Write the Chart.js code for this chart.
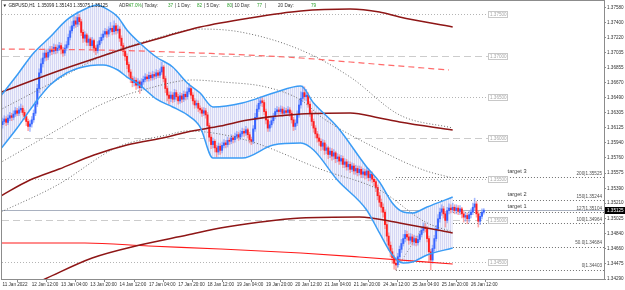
<!DOCTYPE html>
<html><head><meta charset="utf-8">
<script src="https://cdn.jsdelivr.net/npm/chart.js@4.4.1/dist/chart.umd.min.js"></script>
<style>html,body{margin:0;padding:0;background:#fff;overflow:hidden}canvas{display:block}</style>
</head><body><canvas id="c" width="625" height="290"></canvas>
<script>
// ---------- DATA (GBPUSD H1) ----------
const xLabels = ['11 Jan 2022','12 Jan 12:00','13 Jan 04:00','13 Jan 20:00','14 Jan 12:00','17 Jan 04:00','17 Jan 20:00','18 Jan 12:00','19 Jan 04:00','19 Jan 20:00','20 Jan 12:00','21 Jan 04:00','21 Jan 20:00','24 Jan 12:00','25 Jan 04:00','25 Jan 20:00','26 Jan 12:00'];
const yTicks = [1.37580,1.37400,1.37220,1.37035,1.36855,1.36670,1.36490,1.36305,1.36125,1.35940,1.35760,1.35575,1.35390,1.35210,1.35025,1.34840,1.34660,1.34475,1.34290];
const firstOpen = 1.3616;
const closes = [1.3620,1.3623,1.3619,1.3624,1.3627,1.3625,1.3629,1.3633,1.3630,1.3634,1.3636,
1.3631,1.3626,1.3620,1.3614,1.3617,1.3622,1.3630,1.3641,1.3660,1.3679,1.3690,1.3697,
1.3703,1.3698,1.3704,1.3707,1.3705,1.3710,1.3706,1.3709,1.3712,1.3707,1.3703,1.3709,1.3713,
1.3722,1.3730,1.3736,1.3742,1.3738,1.3746,1.3741,1.3728,1.3721,
1.3725,1.3716,1.3720,1.3712,1.3718,1.3709,1.3706,1.3713,1.3718,1.3722,1.3726,1.3729,1.3726,1.3731,
1.3733,1.3729,1.3736,1.3730,1.3732,1.3721,1.3712,1.3705,1.3699,1.3689,1.3680,1.3672,1.3667,
1.3670,1.3664,1.3668,1.3661,1.3668,1.3671,1.3674,1.3672,1.3676,1.3673,1.3677,1.3675,1.3679,1.3676,1.3680,1.3686,
1.3672,1.3660,1.3652,1.3648,1.3652,1.3647,1.3655,1.3650,1.3645,1.3651,1.3647,1.3653,1.3650,
1.3656,1.3660,1.3652,1.3645,1.3640,1.3642,1.3636,1.3634,1.3630,1.3633,1.3628,
1.3615,1.3601,1.3592,1.3596,1.3588,1.3583,1.3590,1.3585,1.3591,
1.3594,1.3592,1.3597,1.3596,1.3600,1.3598,1.3602,1.3604,1.3601,1.3605,1.3608,1.3606,1.3610,
1.3604,1.3598,1.3596,1.3611,1.3625,1.3635,1.3642,1.3645,1.3643,1.3632,1.3622,1.3612,1.3616,
1.3621,1.3626,1.3632,1.3634,1.3632,1.3635,1.3630,1.3633,1.3631,1.3634,1.3630,1.3622,1.3614,1.3618,
1.3628,1.3640,1.3648,1.3655,1.3650,1.3652,1.3641,1.3630,1.3620,1.3612,1.3605,1.3600,1.3596,
1.3590,1.3594,1.3585,1.3588,1.3580,1.3584,1.3578,1.3582,1.3575,
1.3577,1.3572,1.3575,1.3568,1.3571,1.3565,1.3568,1.3562,1.3566,1.3560,1.3563,1.3558,1.3562,1.3556,1.3559,
1.3555,1.3560,1.3552,1.3556,1.3550,1.3547,1.3540,1.3530,1.3522,1.3516,1.3510,
1.3495,1.3481,1.3470,1.3462,1.3455,1.3448,1.3446,1.3456,1.3465,1.3472,1.3478,1.3483,1.3480,
1.3476,1.3480,1.3474,1.3478,1.3473,1.3477,1.3483,1.3488,1.3492,1.3490,1.3478,1.3462,1.3452,
1.3466,1.3478,1.3490,1.3502,1.3510,1.3514,1.3508,1.3500,1.3512,1.3515,
1.3513,1.3516,1.3512,1.3515,1.3511,1.3514,1.3508,1.3504,1.3506,1.3502,1.3507,1.3510,
1.3516,1.3520,1.3508,1.3499,1.3505,1.3510,1.35125];
const highs = [1.3624,1.3627,1.3626,1.3628,1.3631,1.3630,1.3633,1.3637,1.3636,1.3638,1.3641,
1.3639,1.3634,1.3628,1.3623,1.3621,1.3626,1.3634,1.3645,1.3665,1.3684,1.3696,1.3703,
1.3708,1.3707,1.3708,1.3711,1.3711,1.3714,1.3713,1.3713,1.3716,1.3715,1.3710,1.3713,1.3717,
1.3726,1.3735,1.3741,1.3748,1.3747,1.3753,1.3750,1.3744,1.3731,
1.3729,1.3727,1.3724,1.3722,1.3722,1.3720,1.3712,1.3717,1.3722,1.3726,1.3730,1.3733,1.3732,1.3735,
1.3740,1.3736,1.3742,1.3739,1.3737,1.3735,1.3724,1.3715,1.3708,1.3702,1.3692,1.3683,1.3675,
1.3674,1.3673,1.3672,1.3670,1.3672,1.3675,1.3678,1.3677,1.3680,1.3679,1.3681,1.3680,1.3683,1.3682,1.3684,1.3692,
1.3688,1.3675,1.3663,1.3656,1.3656,1.3655,1.3659,1.3658,1.3653,1.3655,1.3654,1.3657,1.3656,
1.3661,1.3666,1.3663,1.3655,1.3648,1.3646,1.3645,1.3639,1.3637,1.3637,1.3636,
1.3631,1.3618,1.3604,1.3600,1.3598,1.3591,1.3594,1.3593,1.3595,
1.3598,1.3597,1.3601,1.3600,1.3604,1.3603,1.3606,1.3608,1.3607,1.3609,1.3612,1.3611,1.3614,
1.3612,1.3607,1.3601,1.3615,1.3630,1.3640,1.3647,1.3650,1.3649,1.3646,1.3635,1.3625,1.3620,
1.3625,1.3630,1.3636,1.3638,1.3637,1.3639,1.3638,1.3637,1.3636,1.3638,1.3637,1.3633,1.3625,1.3622,
1.3633,1.3646,1.3656,1.3663,1.3662,1.3659,1.3655,1.3644,1.3633,1.3623,1.3615,1.3608,1.3604,
1.3599,1.3598,1.3597,1.3592,1.3590,1.3588,1.3587,1.3586,1.3584,
1.3581,1.3580,1.3579,1.3578,1.3575,1.3574,1.3572,1.3571,1.3570,1.3569,1.3567,1.3566,1.3566,1.3565,1.3563,
1.3562,1.3564,1.3563,1.3560,1.3559,1.3553,1.3550,1.3543,1.3534,1.3526,1.3520,
1.3513,1.3498,1.3485,1.3474,1.3466,1.3458,1.3452,1.3460,1.3469,1.3477,1.3483,1.3488,1.3487,
1.3484,1.3484,1.3483,1.3482,1.3481,1.3481,1.3487,1.3492,1.3497,1.3496,1.3493,1.3481,1.3465,
1.3470,1.3482,1.3494,1.3507,1.3515,1.3519,1.3517,1.3511,1.3516,1.3520,
1.3519,1.3521,1.3519,1.3519,1.3518,1.3518,1.3516,1.3511,1.3510,1.3509,1.3511,1.3514,
1.3521,1.3527,1.3523,1.3511,1.3509,1.3514,1.35143];
const lows = [1.3612,1.3617,1.3615,1.3616,1.3621,1.3621,1.3622,1.3626,1.3627,1.3627,1.3631,
1.3628,1.3622,1.3615,1.3609,1.3608,1.3613,1.3619,1.3627,1.3638,1.3655,1.3675,1.3686,
1.3693,1.3694,1.3695,1.3700,1.3701,1.3702,1.3702,1.3703,1.3706,1.3702,1.3699,1.3700,1.3706,
1.3710,1.3719,1.3727,1.3733,1.3734,1.3735,1.3737,1.3724,1.3716,
1.3717,1.3712,1.3712,1.3707,1.3709,1.3704,1.3701,1.3703,1.3710,1.3715,1.3719,1.3723,1.3722,1.3723,
1.3728,1.3725,1.3726,1.3726,1.3727,1.3717,1.3708,1.3700,1.3694,1.3684,1.3675,1.3667,1.3662,
1.3663,1.3659,1.3660,1.3654,1.3658,1.3665,1.3668,1.3669,1.3669,1.3670,1.3670,1.3671,1.3672,1.3673,1.3673,1.3677,
1.3668,1.3655,1.3645,1.3641,1.3644,1.3643,1.3644,1.3646,1.3641,1.3642,1.3643,1.3644,1.3646,
1.3647,1.3653,1.3648,1.3641,1.3636,1.3637,1.3632,1.3630,1.3626,1.3627,1.3624,
1.3611,1.3596,1.3587,1.3588,1.3583,1.3577,1.3580,1.3580,1.3582,
1.3588,1.3588,1.3589,1.3592,1.3593,1.3594,1.3595,1.3599,1.3597,1.3598,1.3602,1.3602,1.3603,
1.3600,1.3594,1.3592,1.3593,1.3608,1.3622,1.3632,1.3639,1.3638,1.3628,1.3617,1.3608,1.3608,
1.3613,1.3618,1.3623,1.3629,1.3628,1.3629,1.3626,1.3627,1.3627,1.3628,1.3626,1.3618,1.3609,1.3610,
1.3615,1.3625,1.3636,1.3644,1.3646,1.3645,1.3637,1.3626,1.3615,1.3607,1.3600,1.3595,1.3591,
1.3585,1.3586,1.3580,1.3581,1.3575,1.3576,1.3573,1.3574,1.3570,
1.3571,1.3568,1.3568,1.3564,1.3564,1.3561,1.3561,1.3558,1.3559,1.3556,1.3556,1.3554,1.3555,1.3552,1.3552,
1.3550,1.3551,1.3548,1.3548,1.3546,1.3542,1.3535,1.3525,1.3517,1.3510,1.3504,
1.3490,1.3475,1.3464,1.3456,1.3448,1.3441,1.3440,1.3443,1.3452,1.3461,1.3469,1.3474,1.3476,
1.3471,1.3472,1.3470,1.3470,1.3469,1.3470,1.3474,1.3480,1.3485,1.3486,1.3474,1.3450,1.3440,
1.3448,1.3463,1.3475,1.3487,1.3498,1.3506,1.3503,1.3492,1.3497,1.3508,
1.3509,1.3510,1.3508,1.3508,1.3507,1.3507,1.3503,1.3498,1.3499,1.3496,1.3498,1.3503,
1.3507,1.3512,1.3504,1.3492,1.3495,1.3502,1.35075];

// Bollinger band H1 (read at these bar positions)
const bandIdx   = [-1.4,8,17,26,35,44,52,55,63,68,75,84,93,101,108,115,131,148,163,170,183,199,206,213,219,224,232,246];
const bandUpper = [1.36497,1.36764,1.37030,1.37224,1.37430,1.37552,1.37612,1.37588,1.37467,1.37309,1.37152,1.36982,1.36861,1.36667,1.36545,1.36376,1.36424,1.36545,1.36630,1.36424,1.36133,1.35648,1.35466,1.35212,1.35102,1.35090,1.35163,1.35284];
const bandLower = [1.35854,1.36121,1.36400,1.36642,1.36788,1.36861,1.36885,1.36885,1.36824,1.36739,1.36642,1.36473,1.36376,1.36279,1.36133,1.35757,1.35757,1.35915,1.35939,1.35854,1.35490,1.35127,1.34848,1.34581,1.34484,1.34496,1.34581,1.34666];

// dark-red envelope (upper / middle / lower)
const envUpIdx = [-2,17,35,53,71,90,108,135,163,190,206,217,246];
const envUp    = [1.36545,1.36703,1.36848,1.36982,1.37115,1.37236,1.37346,1.37455,1.37540,1.37564,1.37527,1.37467,1.37346];
const envMidIdx = [-2,15,31,50,68,90,101,119,134,163,190,206,217,246];
const envMid    = [1.35284,1.35490,1.35624,1.35793,1.35915,1.36012,1.36073,1.36145,1.36218,1.36291,1.36303,1.36242,1.36194,1.36097];
const envLowIdx = [-2,22,49,75,101,119,141,163,195,217,246];
const envLow    = [1.34047,1.34278,1.34545,1.34702,1.34823,1.34908,1.34981,1.35030,1.35042,1.34969,1.34848];
// red MA and dashed red MA
const redIdx = [-2,45,80,119,163,195,246];
const redMA  = [1.34726,1.34726,1.34690,1.34654,1.34605,1.34557,1.34472];
const redDashIdx = [-2,53,108,163,190,244];
const redDash    = [1.37079,1.37067,1.37030,1.36970,1.36921,1.36824];
// dotted band (upper / middle / lower)
const dotUpIdx = [-1.4,29.8,53.3,80.6,108,130,163,190,217,246];
const dotUp    = [1.36339,1.36703,1.36982,1.37188,1.37321,1.37285,1.37067,1.36739,1.36279,1.36121];
const dotMidIdx = [-1.4,29.8,53.3,80.6,104,120,144,163,175,206,230,246];
const dotMid    = [1.35697,1.36097,1.36400,1.36606,1.36703,1.36679,1.36618,1.36460,1.36242,1.35854,1.35612,1.35515];
const dotLowIdx = [-2,30,63,90,101,133,175,206,231,246];
const dotLow    = [1.35090,1.35430,1.35891,1.36036,1.36085,1.35975,1.35612,1.35369,1.34981,1.34860];

// levels, fibonacci targets, info
const levelsDashed = [1.370,1.360,1.350];
const levelsDotted = [1.375,1.365,1.355,1.345];
const fibNames  = ['200','150','127','100','50.0','0'];
const fibPrices = [1.35525,1.35244,1.35104,1.34964,1.34684,1.34403];
const targetNames  = ['target 3','target 2','target 1'];
const targetPrices = [1.35525,1.35244,1.35104];
const fibLineIdx = [215,231];
const fibLinePrice = [1.34403,1.34964];
const currentPrice = 1.35125;
const symbolInfo = 'GBPUSD,H1  1.35099 1.35143 1.35075 1.35125';
const adrNames  = ['ADR:','| Today:','| 1 Day:','| 5 Day:','| 10 Day:','20 Day:'];
const adrValues = ['47.0%','37','82','80','77','79'];

// ---------- CHART ----------
const FONT = "'Liberation Sans', Arial, sans-serif";
const opens = closes.map((c,i)=> i===0 ? firstOpen : closes[i-1]);
const isUp = closes.map((c,i)=> c >= opens[i]);
const pts = (idx, vals) => idx.map((x,k)=>({x:x, y:vals[k]}));
const canvas = document.getElementById('c');
const ctx = canvas.getContext('2d');
const pc = document.createElement('canvas'); pc.width = 2; pc.height = 1;
const pcx = pc.getContext('2d');
pcx.fillStyle = '#f1f2fc'; pcx.fillRect(0,0,2,1);
pcx.fillStyle = '#d6d8f4'; pcx.fillRect(0,0,1,1);
const hatch = ctx.createPattern(pc,'repeat');

const BAR_PX = 1.83;
const xMin = -0.5/BAR_PX, xMax = xMin + 602/BAR_PX;
const levelEnd = 265.3;
const lineDs = (idx, vals, color, width, dash, order) => ({
  type:'line', data: pts(idx, vals), borderColor: color, borderWidth: width,
  borderDash: dash || [], pointRadius: 0, fill: false, cubicInterpolationMode:'monotone', order: order
});

const overlay = {
  id:'overlay',
  beforeDatasetsDraw(chart){
    const c = chart.ctx, xs = chart.scales.x, ys = chart.scales.y, a = chart.chartArea;
    c.save();
    c.beginPath(); c.rect(a.left, a.top, a.right-a.left, a.bottom-a.top); c.clip();
    const xe = xs.getPixelForValue(levelEnd);
    c.lineWidth = 1;
    levelsDashed.forEach(v=>{ const y = Math.round(ys.getPixelForValue(v))+0.5;
      c.strokeStyle='#cccccc'; c.setLineDash([7,4]); c.beginPath(); c.moveTo(a.left,y); c.lineTo(xe,y); c.stroke(); });
    levelsDotted.forEach(v=>{ const y = Math.round(ys.getPixelForValue(v))+0.5;
      c.strokeStyle='#b4b4b4'; c.setLineDash([1,2]); c.beginPath(); c.moveTo(a.left,y); c.lineTo(xe,y); c.stroke(); });
    const xf = xs.getPixelForValue(fibLineIdx[0]);
    fibPrices.forEach(v=>{ const y = Math.round(ys.getPixelForValue(v))+0.5;
      c.strokeStyle='#707070'; c.setLineDash([1,2]); c.beginPath(); c.moveTo(xf,y); c.lineTo(a.right,y); c.stroke(); });
    c.setLineDash([]);
    const yc = Math.round(ys.getPixelForValue(currentPrice))+0.5;
    c.strokeStyle='#a9b1c0'; c.beginPath(); c.moveTo(a.left,yc); c.lineTo(a.right,yc); c.stroke();
    c.restore();
  },
  afterDraw(chart){
    const c = chart.ctx, xs = chart.scales.x, ys = chart.scales.y, a = chart.chartArea;
    c.save();
    c.strokeStyle='#8c8c8c'; c.lineWidth=1;
    c.strokeRect(a.left-0.5, a.top-0.5, a.right-a.left+1, a.bottom-a.top+1);
    const xe = xs.getPixelForValue(levelEnd);
    c.font = '4.6px '+FONT; c.textBaseline='middle'; c.textAlign='left';
    levelsDashed.concat(levelsDotted).forEach(v=>{
      const y = Math.round(ys.getPixelForValue(v));
      c.fillStyle='#ffffff'; c.fillRect(xe, y-3, 19, 6);
      c.strokeStyle='#c8c8c8'; c.strokeRect(xe+0.5, y-2.5, 19, 6);
      c.fillStyle='#a8a8a8'; c.fillText(v.toFixed(5), xe+2, y+0.5);
    });
    c.textAlign='right'; c.fillStyle='#505050';
    fibPrices.forEach((v,k)=>{ const y = ys.getPixelForValue(v);
      c.fillText(fibNames[k]+'|'+v.toFixed(5), a.right-2, y-3.5); });
    c.textAlign='left'; c.font='5.6px '+FONT; c.fillStyle='#404040';
    targetPrices.forEach((v,k)=>{ const y = ys.getPixelForValue(v);
      c.fillText(targetNames[k], xs.getPixelForValue(276), y-5.5); });
    const yc = Math.round(ys.getPixelForValue(currentPrice));
    c.fillStyle='#000'; c.fillRect(a.right+1, yc-3, 20, 7);
    c.fillStyle='#fff'; c.font='4.6px '+FONT; c.fillText(currentPrice.toFixed(5), a.right+3, yc+0.5);
    c.fillStyle='#202020'; c.font='4.6px '+FONT;
    c.fillText('\u25BC', 2.5, 5.5);
    c.fillText(symbolInfo, 8.5, 5.5);
    const nameX = [119,142,175,204,232,278], valX = [128.5,168,197,227,257,311];
    adrNames.forEach((s,k)=>{
      c.fillStyle='#303030'; c.fillText(s, nameX[k], 5.5);
      c.fillStyle='#2ea02e'; c.fillText(adrValues[k], valX[k], 5.5);
    });
    c.fillStyle='#303030'; c.fillText('|', 265, 5.5);
    c.restore();
  }
};

new Chart(ctx, {
  type:'line',
  data:{ datasets:[
    { type:'line', data: pts(bandIdx, bandUpper), borderWidth:0, borderColor:'rgba(0,0,0,0)', pointRadius:0,
      fill:'+1', backgroundColor: hatch, cubicInterpolationMode:'monotone', order:60 },
    { type:'line', data: pts(bandIdx, bandLower), borderWidth:0, borderColor:'rgba(0,0,0,0)', pointRadius:0,
      fill:false, cubicInterpolationMode:'monotone', order:60 },
    { type:'bar', data: closes.map((c,i)=>({x:i, y:[lows[i], highs[i]]})), barThickness:0.9, grouped:false,
      backgroundColor: isUp.map(u=> u ? 'rgba(120,150,255,0.65)' : 'rgba(255,120,120,0.65)'), order:50 },
    { type:'bar', data: closes.map((c,i)=>({x:i, y:[opens[i], c]})), barThickness:1.3, grouped:false, minBarLength:1,
      backgroundColor: isUp.map(u=> u ? '#3a66ff' : '#ff2020'), order:49 },
    lineDs(dotUpIdx, dotUp, '#6a6a6a', 1, [1,2], 30),
    lineDs(dotMidIdx, dotMid, '#6a6a6a', 1, [1,2], 30),
    lineDs(dotLowIdx, dotLow, '#6a6a6a', 1, [1,2], 30),
    lineDs(fibLineIdx, fibLinePrice, '#909090', 1, [1,2], 30),
    lineDs(redDashIdx, redDash, '#ff6a6a', 1.2, [6,4], 25),
    lineDs(redIdx, redMA, '#ff1a1a', 1.1, [], 24),
    lineDs(envLowIdx, envLow, '#8e1616', 1.5, [], 20),
    lineDs(envMidIdx, envMid, '#8e1616', 1.5, [], 20),
    lineDs(envUpIdx, envUp, '#8e1616', 1.5, [], 20),
    lineDs(bandIdx, bandUpper, '#3a9cf5', 1.5, [], 10),
    lineDs(bandIdx, bandLower, '#3a9cf5', 1.5, [], 10)
  ]},
  options:{
    responsive:false, animation:false, events:[],
    layout:{ padding:{ left:2, top:1, right:0, bottom:0 } },
    plugins:{ legend:{display:false}, tooltip:{enabled:false}, filler:{propagate:false} },
    elements:{ point:{ radius:0 } },
    scales:{
      x:{ type:'linear', min:xMin, max:xMax, offset:false,
        afterBuildTicks: s => { s.ticks = xLabels.map((_,k)=>({value:k*16})); },
        afterFit: s => { s.height = 11; s.paddingLeft = 0; s.paddingRight = 0; },
        ticks:{ autoSkip:false, maxRotation:0, minRotation:0, align:'start', padding:0, color:'#303030',
          font:{ size:4.6, family:FONT }, callback:(v,i)=> xLabels[i] },
        grid:{ drawOnChartArea:false, drawTicks:true, tickLength:3, color:'#8c8c8c' },
        border:{ display:false } },
      y:{ position:'right', min:1.34290, max:1.37661,
        afterBuildTicks: s => { s.ticks = yTicks.map(v=>({value:v})); },
        afterFit: s => { s.width = 21; s.paddingTop = 0; s.paddingBottom = 0; },
        ticks:{ autoSkip:false, padding:1, color:'#303030', font:{ size:4.6, family:FONT },
          callback: v => Number(v).toFixed(5) },
        grid:{ drawOnChartArea:false, drawTicks:true, tickLength:2, color:'#8c8c8c' },
        border:{ display:false } }
    }
  },
  plugins:[overlay]
});
</script>
</body></html>
